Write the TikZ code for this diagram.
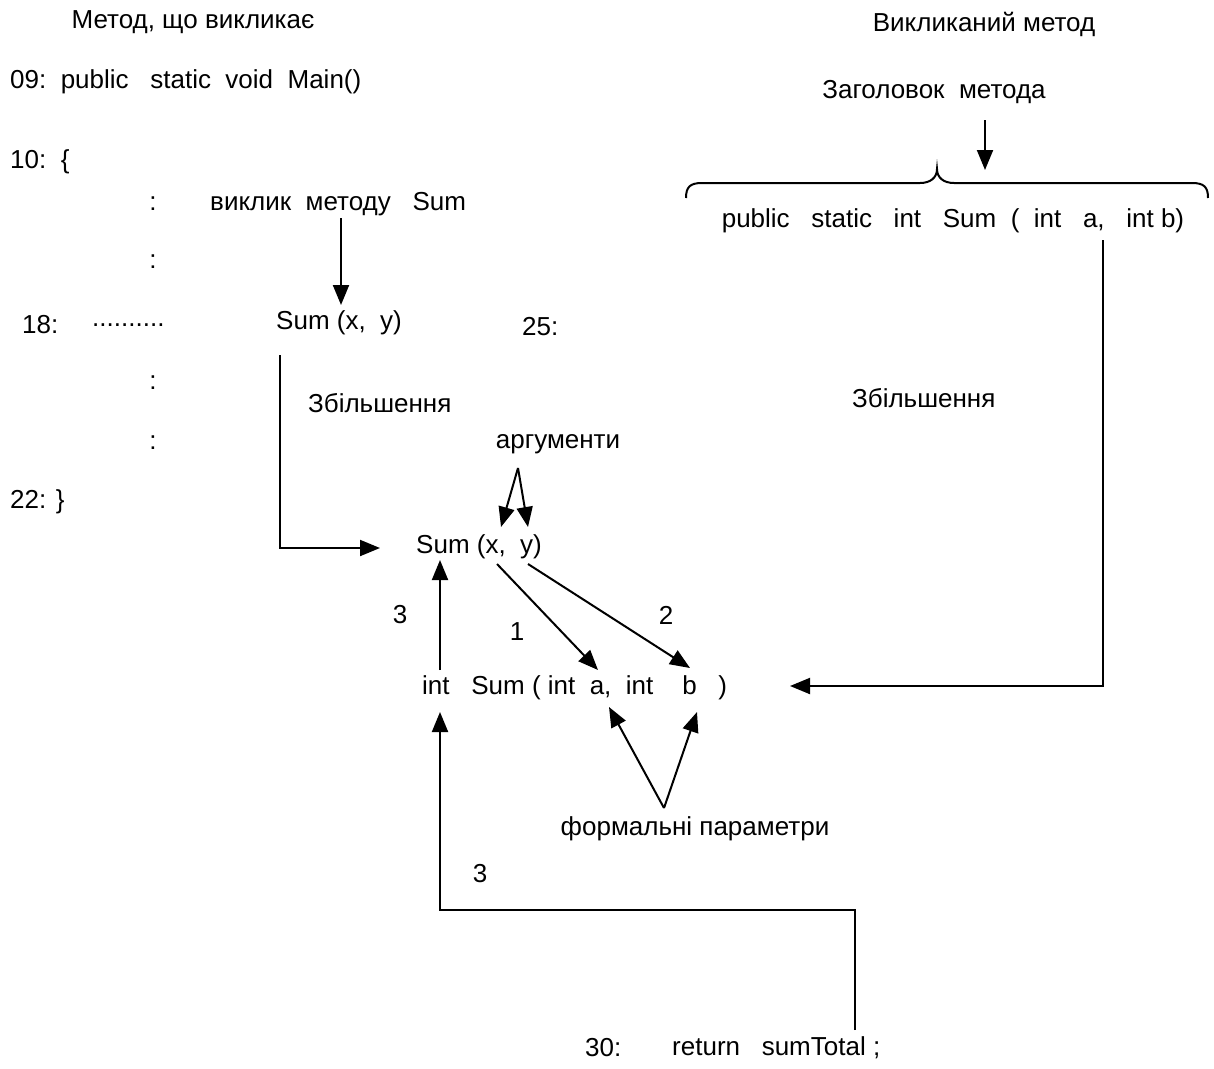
\documentclass[tikz,border=0pt]{standalone}
\usepackage{fontspec}
\setmainfont{Liberation Sans}
\usetikzlibrary{arrows.meta}
\begin{document}
\begin{tikzpicture}[x=1pt,y=-1pt,
  lbl/.style={inner sep=0pt, font=\fontsize{26}{30}\selectfont},
  wire/.style={line width=2pt},
  conn/.style={line width=2pt, -{Triangle[length=20pt,width=16pt]}}]
\useasboundingbox (0,0) rectangle (1214,1068);

% headings
\node[lbl] (hdrL) at (193,22) {Метод, що викликає};
\node[lbl] (hdrR) at (984,24) {Викликаний метод};

% calling method listing
\node[lbl,anchor=west] (l09) at (10,82) {09:\ \ public\ \ \ static\ \ void\ \ Main()};
\node[lbl,anchor=west] (l10) at (10,162) {10:\ \ \{};
\node[lbl] (d1) at (153,204) {:};
\node[lbl,anchor=west] (call) at (210,204) {виклик\ \ методу\ \ \ Sum};
\node[lbl] (d2) at (153,262) {:};
\node[lbl,anchor=west] (l18) at (22,325) {18:};
\node[lbl,anchor=west] (dots) at (92,325) {..........};
\node[lbl,anchor=west] (sum1) at (276,323) {Sum (x,\ \ y)};
\node[lbl,anchor=west] (l25) at (522,327) {25:};
\node[lbl] (d3) at (153,383) {:};
\node[lbl,anchor=west] (zoomL) at (308,403) {Збільшення};
\node[lbl] (d4) at (153,443) {:};
\node[lbl,anchor=west] (l22) at (10,502) {22: \}};

% called method header
\node[lbl] (title) at (934,92) {Заголовок\ \ метода};
\node[lbl] (sig) at (953,221) {public\ \ \ static\ \ \ int\ \ \ Sum\ \ (\ \ int\ \ \ a,\ \ \ int\ b)};
\node[lbl,anchor=west] (zoomR) at (852,398) {Збільшення};

% magnified call and definition
\node[lbl] (args) at (558,444) {аргументи};
\node[lbl,anchor=west] (sum2) at (416,547) {Sum (x,\ \ y)};
\node[lbl] (n3a) at (400,615) {3};
\node[lbl] (n1) at (517,632) {1};
\node[lbl] (n2) at (666,615) {2};
\node[lbl,anchor=west] (def) at (422,688) {int\ \ \ Sum (\ int\ \ a,\ \ int\ \ \ \ b\ \ \ )};
\node[lbl] (formal) at (695,829) {формальні параметри};
\node[lbl] (n3b) at (480,874) {3};
\node[lbl,anchor=west] (l30) at (585,1048) {30:};
\node[lbl,anchor=west] (ret) at (672,1048) {return\ \ \ sumTotal ;};

% connector end points
\coordinate (titleArrowA) at (985,120);
\coordinate (titleArrowB) at (985,170);
\coordinate (callA) at (341,218);
\coordinate (callB) at (341,305);
\coordinate (zoomA) at (280,355);
\coordinate (zoomBend) at (280,548);
\coordinate (zoomB) at (380,548);
\coordinate (argsApex) at (518,468);
\coordinate (argX) at (501,527);
\coordinate (argY) at (528,527);
\coordinate (retUpA) at (440,670);
\coordinate (retUpB) at (440,560);
\coordinate (xStart) at (497,564);
\coordinate (aEnd) at (598,670);
\coordinate (yStart) at (528,564);
\coordinate (bEnd) at (690,668);
\coordinate (sigA) at (1103,240);
\coordinate (sigBend) at (1103,686);
\coordinate (sigB) at (790,686);
\coordinate (formalApex) at (664,808);
\coordinate (parA) at (609,707);
\coordinate (parB) at (697,712);
\coordinate (retA) at (855,1030);
\coordinate (retBend1) at (855,910);
\coordinate (retBend2) at (440,910);
\coordinate (retB) at (440,712);

% brace over the header
\draw[wire] (686,198) .. controls (686,187) and (690,183) .. (702,183)
  -- (920,183) .. controls (930,183) and (937,178) .. (937,169)
  .. controls (937,178) and (944,183) .. (954,183)
  -- (1192,183) .. controls (1204,183) and (1208,187) .. (1208,198);

% arrows
\draw[conn] (titleArrowA) -- (titleArrowB);
\draw[conn] (callA) -- (callB);
\draw[conn] (zoomA) -- (zoomBend) -- (zoomB);
\draw[conn] (argsApex) -- (argX);
\draw[conn] (argsApex) -- (argY);
\draw[conn] (retUpA) -- (retUpB);
\draw[conn] (xStart) -- (aEnd);
\draw[conn] (yStart) -- (bEnd);
\draw[conn] (sigA) -- (sigBend) -- (sigB);
\draw[conn] (formalApex) -- (parA);
\draw[conn] (formalApex) -- (parB);
\draw[conn] (retA) -- (retBend1) -- (retBend2) -- (retB);
\end{tikzpicture}
\end{document}
